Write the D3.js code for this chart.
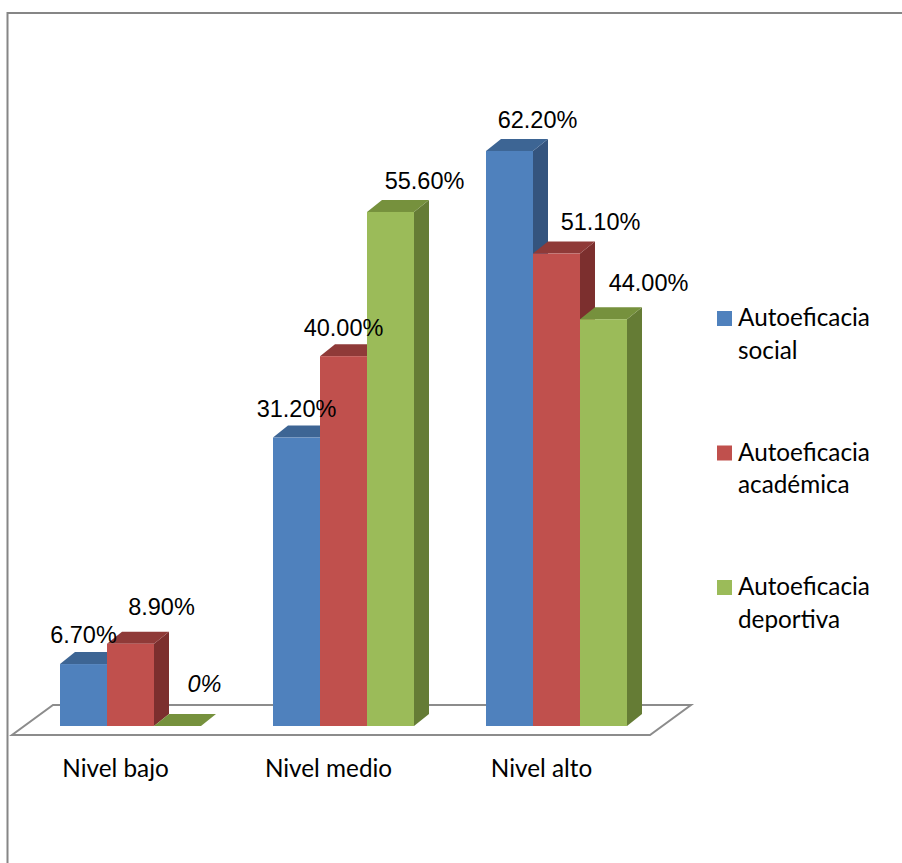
<!DOCTYPE html>
<html>
<head>
<meta charset="utf-8">
<script src="https://cdn.jsdelivr.net/npm/d3@7"></script>
<style>
  body { margin: 0; background: #fff; }
  svg { display: block; }
</style>
</head>
<body>
<svg id="chart"></svg>
<script>
// data
const categories = ["Nivel bajo", "Nivel medio", "Nivel alto"];
const seriesNames = ["Autoeficacia social", "Autoeficacia académica", "Autoeficacia deportiva"];
const legendLines = [["Autoeficacia", "social"], ["Autoeficacia", "académica"], ["Autoeficacia", "deportiva"]];
const social = [6.7, 31.2, 62.2];
const academica = [8.9, 40.0, 51.1];
const deportiva = [0, 55.6, 44.0];
const valueLabels = [
  ["6.70%", "31.20%", "62.20%"],
  ["8.90%", "40.00%", "51.10%"],
  ["0%", "55.60%", "44.00%"]
];

// label nudges (hand placed in the original), per series then category
const nudgeX = [[0, 0, 28], [31, 0, 44], [27, 34, 45]];
const nudgeY = [[-21, -21, -23], [-29, -20, -24], [-34, -23, -28]];

const width = 902, height = 863;
const base = 726;               // front bottom of the bars
const depth = {dx: 15, dy: -12}; // 3d depth of a bar

const colors = [
  {front: "#4F81BD", top: "#3D6594", side: "#34547E"},
  {front: "#C0504D", top: "#8F3A38", side: "#7C2F2E"},
  {front: "#9BBB59", top: "#76913D", side: "#657C35"}
];

const svg = d3.select("#chart")
  .attr("width", width)
  .attr("height", height);

// chart area border (only top and left show in the crop)
svg.append("path")
  .attr("d", `M7.5,${height + 5} V13 H${width + 5}`)
  .attr("fill", "none")
  .attr("stroke", "#868686")
  .attr("stroke-width", 2);

const x = d3.scaleBand()
  .domain(categories)
  .range([60, 627])
  .paddingInner(72 / 213)
  .paddingOuter(0);

const xs = d3.scaleBand()
  .domain(seriesNames)
  .range([0, x.bandwidth()]);

const y = d3.scaleLinear()
  .domain([0, 70])
  .range([base, base - 70 * 9.245]);

// floor
const fl = x.range()[0] - 48, fr = x.range()[1] + 23;
svg.append("path")
  .attr("d", `M${fl},${base + 9} L${fr},${base + 9} L${fr + 41},${base - 21} L${fl + 41},${base - 21} Z`)
  .attr("fill", "#fff")
  .attr("stroke", "#8C8C8C")
  .attr("stroke-width", 2);

const seriesValues = [social, academica, deportiva];

const bars = [];
categories.forEach((c, ci) => {
  seriesNames.forEach((s, si) => {
    bars.push({c, ci, s, si, v: seriesValues[si][ci]});
  });
});

const bw = xs.bandwidth();
const g = svg.append("g");

bars.forEach(d => {
  const x0 = x(d.c) + xs(d.s);
  const y0 = y(d.v);
  const col = colors[d.si];
  // side
  g.append("path")
    .attr("d", `M${x0 + bw},${y0} L${x0 + bw + depth.dx},${y0 + depth.dy} L${x0 + bw + depth.dx},${base + depth.dy} L${x0 + bw},${base} Z`)
    .attr("fill", col.side);
  // top
  g.append("path")
    .attr("d", `M${x0},${y0} L${x0 + depth.dx},${y0 + depth.dy} L${x0 + bw + depth.dx},${y0 + depth.dy} L${x0 + bw},${y0} Z`)
    .attr("fill", col.top);
  // front
  if (d.v > 0) {
    g.append("rect")
      .attr("x", x0)
      .attr("y", y0)
      .attr("width", bw)
      .attr("height", base - y0)
      .attr("fill", col.front);
  }
});

// value labels
svg.append("g")
  .selectAll("text").data(bars).enter().append("text")
  .attr("x", d => x(d.c) + xs(d.s) + bw / 2 + nudgeX[d.si][d.ci])
  .attr("y", d => y(d.v) + nudgeY[d.si][d.ci])
  .attr("text-anchor", "middle")
  .style("font-family", "'Liberation Sans', Arial, sans-serif")
  .style("font-size", "23.5px")
  .style("font-style", d => d.v === 0 ? "italic" : "normal")
  .attr("fill", "#000")
  .text(d => valueLabels[d.si][d.ci]);

// calibri-like font, sized to match the width of the original text
const uiFont = "Lato, 'Open Sans', sans-serif";
const probe = svg.append("text")
  .style("font-family", uiFont)
  .style("font-size", "100px")
  .text("Autoeficacia");
const uiSize = 100 * 132 / probe.node().getComputedTextLength();
probe.remove();

// category labels
svg.append("g")
  .selectAll("text").data(categories).enter().append("text")
  .attr("x", d => x(d) + x.bandwidth() / 2 - 15)
  .attr("y", 777)
  .attr("text-anchor", "middle")
  .style("font-family", uiFont)
  .style("font-size", uiSize + "px")
  .attr("fill", "#000")
  .text(d => d);

// legend
const legend = svg.append("g")
  .selectAll("g").data(seriesNames).enter().append("g")
  .attr("transform", (d, i) => `translate(717,${326 + i * 134.5})`);

legend.append("rect")
  .attr("x", 0)
  .attr("y", -15)
  .attr("width", 15)
  .attr("height", 15)
  .attr("fill", (d, i) => colors[i].front);

legend.append("text")
  .attr("x", 21)
  .style("font-family", uiFont)
  .style("font-size", uiSize + "px")
  .attr("fill", "#000")
  .selectAll("tspan").data((d, i) => legendLines[i]).enter().append("tspan")
  .attr("x", 21)
  .attr("y", (d, j) => j * 32.5)
  .text(d => d);
</script>
</body>
</html>
